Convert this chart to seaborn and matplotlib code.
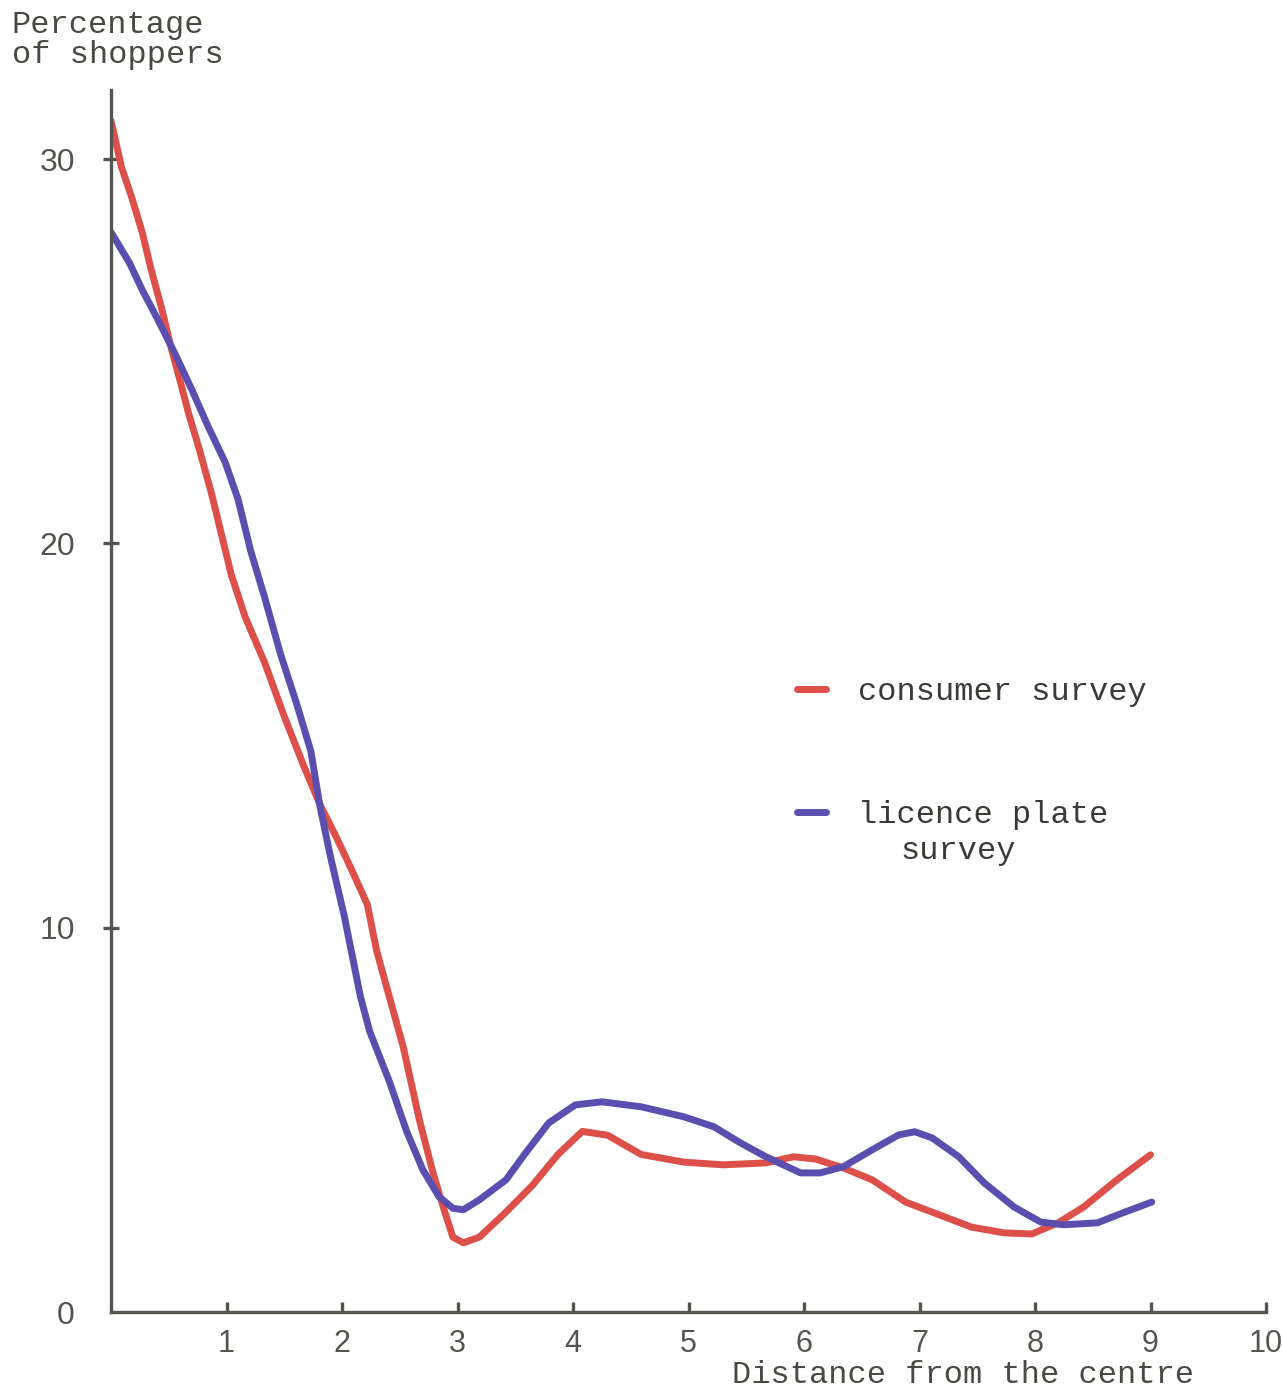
import numpy as np
import pandas as pd
import seaborn as sns
import matplotlib.pyplot as plt

# valores (distancia x percentagem)
consumer_x = [0.0, 0.09, 0.18, 0.27, 0.35, 0.44, 0.52, 0.61, 0.67, 0.76, 0.87, 1.0,
              1.04, 1.16, 1.33, 1.5, 1.67, 1.81, 1.96, 2.1, 2.22, 2.3, 2.41, 2.53,
              2.67, 2.79, 2.88, 2.96, 3.05, 3.19, 3.42, 3.65, 3.87, 4.08, 4.3, 4.59,
              4.96, 5.3, 5.67, 5.91, 6.1, 6.34, 6.59, 6.88, 7.17, 7.45, 7.73, 7.97,
              8.2, 8.42, 8.71, 9.0]
consumer_y = [31.0, 29.8, 29.0, 28.1, 27.1, 26.1, 25.1, 24.1, 23.4, 22.5, 21.3, 19.7,
              19.2, 18.1, 16.9, 15.5, 14.2, 13.2, 12.3, 11.4, 10.6, 9.4, 8.2, 6.9,
              5.0, 3.6, 2.7, 1.95, 1.8, 1.95, 2.6, 3.3, 4.1, 4.7, 4.6, 4.1,
              3.9, 3.83, 3.88, 4.04, 3.98, 3.75, 3.44, 2.86, 2.53, 2.21, 2.06, 2.03,
              2.32, 2.73, 3.44, 4.09]

licence_x = [0.0, 0.16, 0.27, 0.41, 0.56, 0.7, 0.84, 0.99, 1.1, 1.21, 1.33, 1.47,
             1.61, 1.73, 1.81, 1.9, 2.02, 2.16, 2.24, 2.41, 2.56, 2.7, 2.84, 2.96,
             3.05, 3.19, 3.42, 3.59, 3.79, 4.02, 4.25, 4.59, 4.96, 5.22, 5.45, 5.67,
             5.97, 6.14, 6.34, 6.59, 6.82, 6.96, 7.11, 7.34, 7.56, 7.82, 8.05, 8.25,
             8.54, 8.76, 9.01]
licence_y = [28.1, 27.3, 26.6, 25.8, 24.9, 24.0, 23.05, 22.1, 21.15, 19.8, 18.6, 17.1,
             15.8, 14.6, 13.15, 11.85, 10.3, 8.2, 7.3, 6.0, 4.7, 3.7, 3.0, 2.7,
             2.66, 2.92, 3.44, 4.14, 4.92, 5.39, 5.47, 5.34, 5.08, 4.82, 4.4, 4.04,
             3.62, 3.62, 3.78, 4.22, 4.61, 4.69, 4.53, 4.04, 3.36, 2.73, 2.34, 2.27,
             2.32, 2.58, 2.86]

labels = ["consumer survey", "licence plate"]
cores = ["#dd4f49", "#5a4fae"]

df = pd.concat([
    pd.DataFrame({"dist": consumer_x, "pct": consumer_y, "survey": labels[0]}),
    pd.DataFrame({"dist": licence_x, "pct": licence_y, "survey": labels[1]}),
])

sns.set_style("white")
plt.rcParams["font.family"] = ["Liberation Mono", "DejaVu Sans Mono"]

fig = plt.figure(figsize=(12.82, 13.93), dpi=100)
ax = fig.add_axes([111 / 1282, 81 / 1393, 1155 / 1282, 1222 / 1393])

sns.lineplot(data=df, x="dist", y="pct", hue="survey", palette=cores,
             sort=False, linewidth=5, ax=ax, solid_capstyle="round",
             solid_joinstyle="round")

ax.set_xlim(0, 10)
ax.set_ylim(0, 31.8)

eixo = "#55554f"
for s in ["top", "right"]:
    ax.spines[s].set_visible(False)
for s in ["left", "bottom"]:
    ax.spines[s].set_color(eixo)
    ax.spines[s].set_linewidth(2.4)

ax.set_xticks(range(1, 11))
ax.set_xticklabels([str(i) for i in range(1, 11)], family="Liberation Sans",
                   fontsize=22, color="#555550")
ax.set_yticks([0, 10, 20, 30])
ax.set_yticklabels(["0", "10", "20", "30"], family="Liberation Sans",
                   fontsize=23, color="#555550")
ax.tick_params(axis="x", bottom=True, direction="in", length=7, width=2.4,
               color=eixo, pad=12)
ax.tick_params(axis="y", left=True, direction="inout", length=12, width=2.4,
               color=eixo, pad=20)
ax.yaxis.get_major_ticks()[0].tick1line.set_visible(False)

ax.set_xlabel("")
ax.set_ylabel("")
fig.text(0.009, 0.993, "Percentage\nof shoppers", ha="left", va="top",
         fontsize=23, color="#4a4a44", linespacing=1.0)
fig.text(0.931, 0.002, "Distance from the centre", ha="right", va="bottom",
         fontsize=23, color="#4a4a44")

leg = ax.legend(loc="upper left", bbox_to_anchor=(0.622, 0.5137),
                bbox_transform=fig.transFigure, frameon=False, fontsize=23,
                handlelength=0.9, handletextpad=1.0, labelspacing=2.9,
                borderpad=0, borderaxespad=0)
for t in leg.get_texts():
    t.set_color("#3a3a36")
for h in leg.get_lines():
    h.set_linewidth(5)
# segunda linha do rotulo da legenda
fig.text(900 / 1282, 1 - 851 / 1393, "survey", ha="left", va="center",
         fontsize=23, color="#3a3a36")

fig.savefig("out.png", dpi=100)
